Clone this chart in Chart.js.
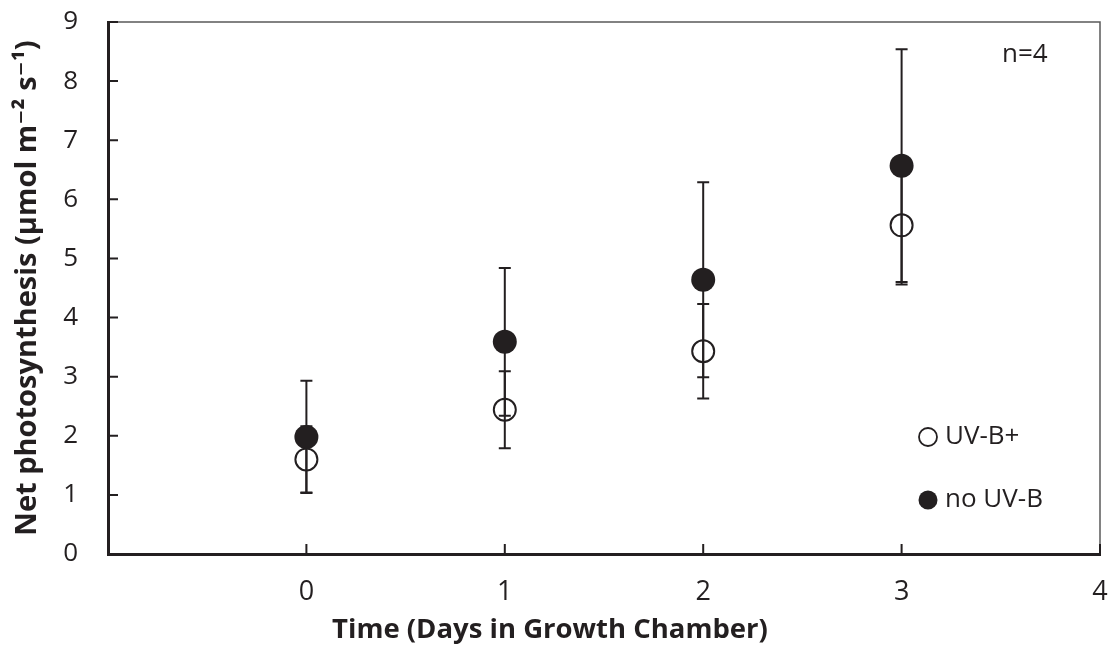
<!DOCTYPE html>
<html>
<head>
<meta charset="utf-8">
<script src="https://cdn.jsdelivr.net/npm/chart.js@4.4.0/dist/chart.umd.min.js"></script>
<style>
  html, body { margin: 0; padding: 0; background: #fff; }
  #wrap { width: 1109px; height: 657px; }
</style>
</head>
<body>
<div id="wrap"><canvas id="photo"></canvas></div>
<script>
// days and the two treatments (mean, error)
var days = [0, 1, 2, 3];
var uvbMean = [1.60, 2.44, 3.43, 5.56];
var uvbErr = [0.56, 0.65, 0.80, 1.00];
var noUvbMean = [1.98, 3.59, 4.64, 6.57];
var noUvbErr = [0.95, 1.25, 1.65, 1.97];
var xTicks = [-1, 0, 1, 2, 3, 4];
var yTicks = [0, 1, 2, 3, 4, 5, 6, 7, 8, 9];

var ink = '#231f20';
var fontName = "'Open Sans', 'DejaVu Sans', sans-serif";

function points(means) {
	var out = [];
	for (var i = 0; i < days.length; i++) out.push({ x: days[i], y: means[i] });
	return out;
}

// error bars, drawn under the markers
var errorBars = {
	id: 'errorBars',
	beforeDatasetsDraw: function (chart) {
		var ctx = chart.ctx;
		var xs = chart.scales.x, ys = chart.scales.y;
		var sets = [[uvbMean, uvbErr], [noUvbMean, noUvbErr]];
		ctx.save();
		ctx.strokeStyle = ink;
		ctx.lineWidth = 2;
		sets.forEach(function (s) {
			for (var i = 0; i < days.length; i++) {
				var px = xs.getPixelForValue(days[i]);
				var top = ys.getPixelForValue(s[0][i] + s[1][i]);
				var bot = ys.getPixelForValue(s[0][i] - s[1][i]);
				ctx.beginPath();
				ctx.moveTo(px, top); ctx.lineTo(px, bot);
				ctx.moveTo(px - 6, top); ctx.lineTo(px + 6, top);
				ctx.moveTo(px - 6, bot); ctx.lineTo(px + 6, bot);
				ctx.stroke();
			}
		});
		ctx.restore();
	}
};

// frame, inside ticks, legend and n label
var decorations = {
	id: 'decorations',
	afterDatasetsDraw: function (chart) {
		var ctx = chart.ctx;
		var a = chart.chartArea;
		var xs = chart.scales.x, ys = chart.scales.y;
		ctx.save();
		// top and right frame
		ctx.strokeStyle = '#595959';
		ctx.lineWidth = 1.5;
		ctx.beginPath();
		ctx.moveTo(a.left, a.top); ctx.lineTo(a.right, a.top); ctx.lineTo(a.right, a.bottom);
		ctx.stroke();
		// inside ticks
		ctx.strokeStyle = ink;
		ctx.lineWidth = 2;
		ctx.beginPath();
		yTicks.forEach(function (v) {
			var py = ys.getPixelForValue(v);
			ctx.moveTo(a.left, py); ctx.lineTo(a.left + 10, py);
		});
		xTicks.forEach(function (v) {
			var px = xs.getPixelForValue(v);
			ctx.moveTo(px, a.bottom); ctx.lineTo(px, a.bottom - 10);
		});
		ctx.stroke();
		// legend
		ctx.fillStyle = ink;
		ctx.font = '26px ' + fontName;
		ctx.textBaseline = 'middle';
		ctx.lineWidth = 1.8;
		ctx.beginPath();
		ctx.arc(928, 437, 9, 0, Math.PI * 2);
		ctx.stroke();
		ctx.fillText('UV-B+', 945, 437);
		ctx.beginPath();
		ctx.arc(928, 500, 9.5, 0, Math.PI * 2);
		ctx.fill();
		ctx.fillText('no UV-B', 945, 500);
		ctx.fillText('n=4', 1002, 55);
		ctx.restore();
	}
};

var config = {
	type: 'scatter',
	data: {
		datasets: [{
			label: 'no UV-B',
			data: points(noUvbMean),
			order: 0,
			pointRadius: 12,
			pointHoverRadius: 12,
			backgroundColor: ink,
			borderColor: ink,
			borderWidth: 0
		}, {
			label: 'UV-B+',
			data: points(uvbMean),
			order: 1,
			pointRadius: 11,
			pointHoverRadius: 11,
			backgroundColor: 'rgba(0,0,0,0)',
			borderColor: ink,
			borderWidth: 2
		}]
	},
	options: {
		responsive: true,
		maintainAspectRatio: false,
		animation: false,
		layout: { autoPadding: false, padding: { top: 22, right: 9, left: 0, bottom: 0 } },
		plugins: {
			legend: { display: false },
			tooltip: { enabled: false },
			title: {
				display: true,
				position: 'bottom',
				text: 'Time (Days in Growth Chamber)',
				color: ink,
				font: { family: fontName, size: 27.5, weight: 'bold' },
				padding: { top: 0, bottom: 10 }
			}
		},
		scales: {
			x: {
				type: 'linear',
				min: -1,
				max: 4,
				afterFit: function (s) { s.height = 60; s.paddingLeft = 0; s.paddingRight = 0; },
				afterBuildTicks: function (s) { s.ticks = xTicks.map(function (v) { return { value: v }; }); },
				grid: { display: false, drawTicks: false },
				border: { display: true, color: ink, width: 3 },
				ticks: {
					padding: 22,
					color: ink,
					font: { family: fontName, size: 27 },
					callback: function (v) { return v < 0 ? '' : v; }
				}
			},
			y: {
				min: 0,
				max: 9,
				afterFit: function (s) { s.width = 108; s.paddingTop = 0; s.paddingBottom = 0; },
				afterBuildTicks: function (s) { s.ticks = yTicks.map(function (v) { return { value: v }; }); },
				grid: { display: false, drawTicks: false },
				border: { display: true, color: ink, width: 3 },
				ticks: {
					padding: 30,
					color: ink,
					font: { family: fontName, size: 26 }
				},
				title: {
					display: true,
					text: 'Net photosynthesis (µmol m⁻² s⁻¹)',
					color: ink,
					font: { family: fontName, size: 29, weight: 'bold' },
					padding: { top: 10, bottom: 0 }
				}
			}
		}
	},
	plugins: [errorBars, decorations]
};

new Chart(document.getElementById('photo'), config);
</script>
</body>
</html>
